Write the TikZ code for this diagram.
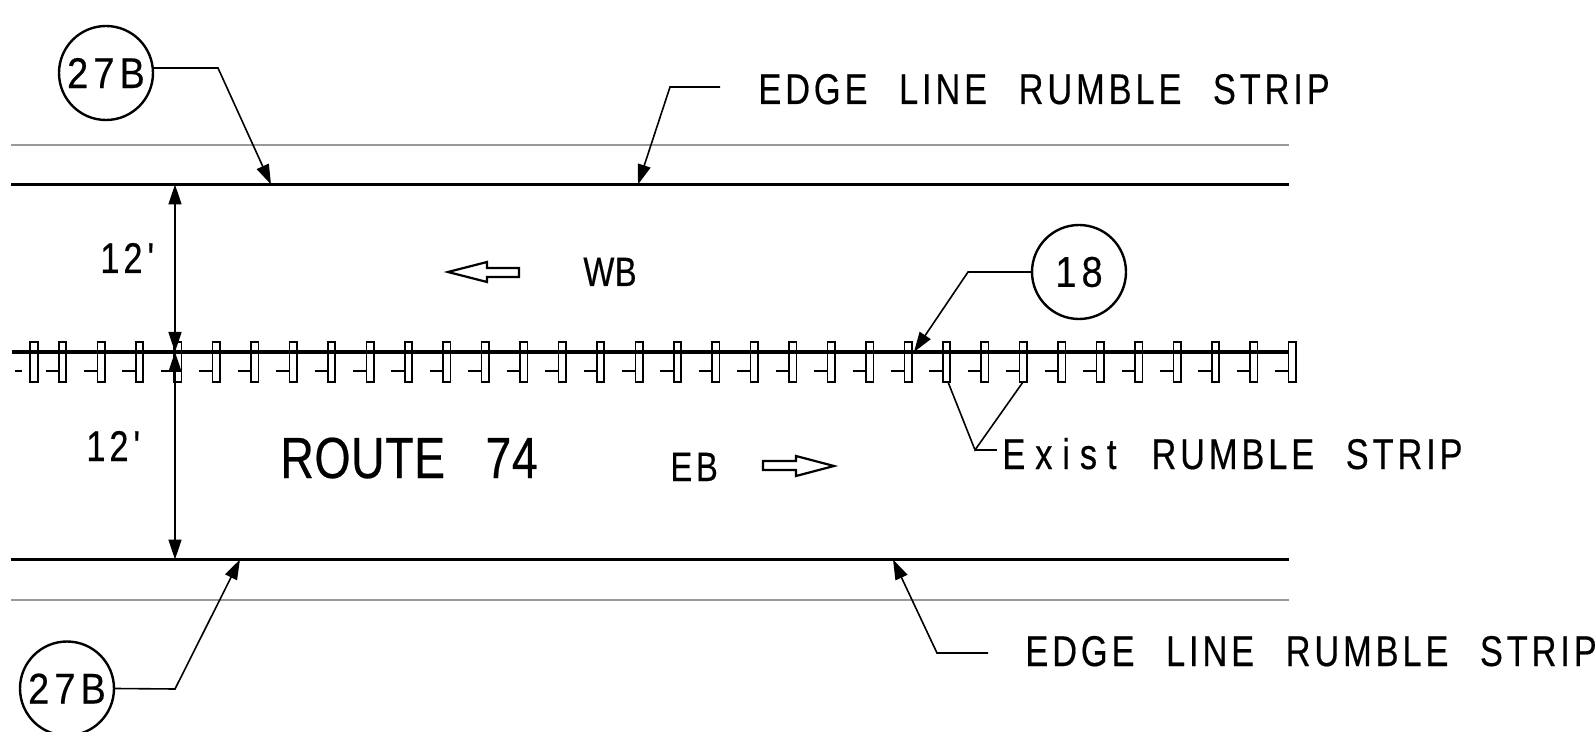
\documentclass[tikz,border=0pt]{standalone}
\usepackage{fontspec}
\usetikzlibrary{arrows.meta}
\newfontfamily\cadfont[LetterSpace=9, FakeStretch=0.8, WordSpace=2.35, FakeBold=0.4]{Liberation Sans}
\newfontfamily\tightfont[LetterSpace=1, FakeStretch=0.8, WordSpace=3, FakeBold=0.4]{Liberation Sans}
\newfontfamily\roundfont[LetterSpace=12, FakeStretch=0.88, FakeBold=0.4]{Liberation Sans}
\newfontfamily\widefont[LetterSpace=23, FakeStretch=0.8, FakeBold=0.4]{Liberation Sans}
\tikzset{
    cadtext/.style = {anchor = base west, inner sep = 0pt, font = \cadfont\fontsize{#1}{#1}\selectfont},
    tighttext/.style = {anchor = base west, inner sep = 0pt, font = \tightfont\fontsize{#1}{#1}\selectfont},
    callout/.style = {draw, circle, line width = 1.2pt, minimum size = 47pt, inner sep = 0pt, font = \roundfont\fontsize{21.5}{21.5}\selectfont},
    leader/.style = {line width = 0.8pt, -{Triangle[length = 10pt, width = 6.5pt]}},
    dimline/.style = {line width = 0.8pt, {Triangle[length = 10pt, width = 6.5pt]}-{Triangle[length = 10pt, width = 6.5pt]}},
    edgeline/.style = {line width = 1.7pt},
    shoulder/.style = {line width = 0.7pt, gray!80}
}
\begin{document}
\begin{tikzpicture}[x = 0.5pt, y = -0.5pt]
    \useasboundingbox (0, 0) rectangle (1595, 732);
    % Road lines
    \coordinate (L1) at (11, 145);
    \coordinate (R1) at (1289, 145);
    \coordinate (L2) at (11, 184.5);
    \coordinate (R2) at (1289, 184.5);
    \coordinate (L3) at (12, 352);
    \coordinate (R3) at (1289, 352);
    \coordinate (L4) at (11, 559.5);
    \coordinate (R4) at (1289, 559.5);
    \coordinate (L5) at (11, 600);
    \coordinate (R5) at (1289, 600);
    \draw [shoulder] (L1) -- (R1);
    \draw [shoulder] (L5) -- (R5);
    \draw [edgeline] (L2) -- (R2);
    \draw [edgeline] (L4) -- (R4);
    % Rumble strip
    \foreach \k in {-1, ..., 31} {
        \pgfmathsetmacro{\xk}{101 + 38.43 * \k}
        \draw [line width = 0.8pt] (\xk - 3.7, 342) rectangle (\xk + 3.7, 382);
        \draw [line width = 1.2pt] (\xk - 17, 371) -- (\xk - 3.7, 371);
    }
    \draw [line width = 0.8pt] (30, 342) rectangle (38, 382);
    \draw [line width = 1.2pt] (15, 371) -- (22, 371);
    \draw [edgeline] (L3) -- (R3);
    % Width dimensions
    \coordinate (D1) at (175, 184.5);
    \coordinate (D2) at (175, 352);
    \coordinate (D3) at (175, 559.5);
    \draw [dimline] (D1) -- (D2);
    \draw [dimline] (D2) -- (D3);
    \node [cadtext = 21.5] (dimtop) at (100, 273) {12\kern 2.5pt'};
    \node [cadtext = 21.5] (dimbot) at (86, 461) {12\kern 2.5pt'};
    % Callouts
    \node [callout] (topb) at (106, 73) {27B};
    \node [callout] (botb) at (67, 688.5) {27B};
    \node [callout] (mid) at (1079, 272) {18};
    \coordinate (topbend) at (218, 68);
    \coordinate (topend) at (271, 184.5);
    \coordinate (botbend) at (175, 689);
    \coordinate (botend) at (240, 559.5);
    \coordinate (midbend) at (968, 272);
    \coordinate (midend) at (914, 352);
    \draw [leader] (topb.6) -- (topbend) -- (topend);
    \draw [leader] (botb.east) -- (botbend) -- (botend);
    \draw [leader] (mid.west) -- (midbend) -- (midend);
    % Notes
    \node [cadtext = 21.5] (notetop) at (758, 104) {EDGE LINE RUMBLE STRIP};
    \node [cadtext = 21.5] (notebot) at (1025, 666) {EDGE LINE RUMBLE STRIP};
    \node [cadtext = 21.5] (noteexist) at (1002, 469) {{\widefont Exist}\kern 17.5pt RUMBLE STRIP};
    \coordinate (notetopa) at (720, 87);
    \coordinate (notetopb) at (670, 87);
    \coordinate (notetopc) at (638, 184.5);
    \coordinate (notebota) at (988, 653);
    \coordinate (notebotb) at (937, 653);
    \coordinate (notebotc) at (893, 559.5);
    \draw [leader] (notetopa) -- (notetopb) -- (notetopc);
    \draw [leader] (notebota) -- (notebotb) -- (notebotc);
    \coordinate (existv) at (975, 450);
    \coordinate (existl) at (948, 382);
    \coordinate (existr) at (1023, 382);
    \coordinate (existt) at (997, 450);
    \draw [line width = 0.8pt] (existl) -- (existv) -- (existr);
    \draw [line width = 0.8pt] (existv) -- (existt);
    % Traffic direction
    \node [tighttext = 29] (route) at (280, 478) {ROUTE 74};
    \node [tighttext = 20.5] (wb) at (583, 286) {WB};
    \node [cadtext = 20.5] (eb) at (670, 481) {EB};
    \draw [line width = 1.1pt] (448, 272) -- (487, 262) -- (487, 268) -- (519, 268) -- (519, 277) -- (487, 277) -- (487, 282) -- cycle;
    \draw [line width = 1.1pt] (834, 466) -- (796, 456) -- (796, 461) -- (763, 461) -- (763, 470) -- (796, 470) -- (796, 476) -- cycle;
\end{tikzpicture}
\end{document}
